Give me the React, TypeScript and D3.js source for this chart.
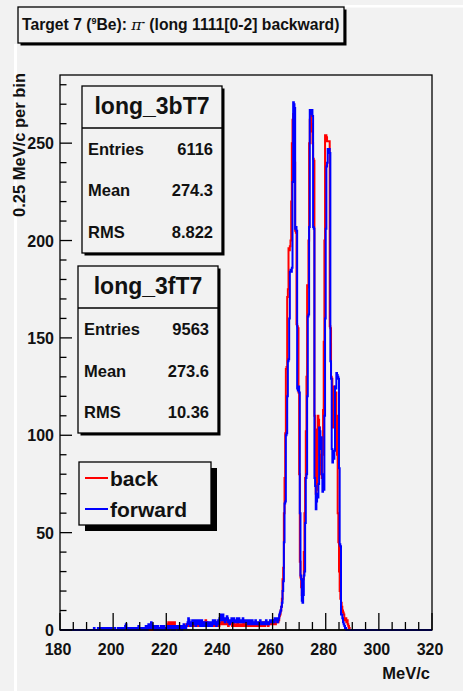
import React from "react";
import * as d3 from "d3";

// ---------- data ----------
const binStart = 192; // MeV/c, first listed bin
const binWidth = 0.25; // MeV/c per bin

// back (red): 192.00 .. 289.75 MeV/c, 0.25 MeV/c bins
const backNoise = [
  0,0,0,0,0,0,0,0, 0,0,0,0,0,0,0,0, 0,0,0,0,0,0,0,0, 0,0,0,0,0,0,0,0,
  0,0,0,0,0,0,0,0, 0,0,0,0,0,0,0,0, 0,0,0,1,0,0,0,0, 0,0,0,0,0,0,0,0,
  0,0,0,0,0,0,0,0, 0,0,1,0,0,0,0,0, 1,0,0,1,0,0,1,0, 0,1,0,0,1,0,0,1,
  0,0,1,0,0,1,0,0, 1,0,0,1,0,0,1,0, 1,2,3,4,3,2,3,4, 4,3,2,3,4,2,1,2,
  2,1,1,2,1,1,2,1, 1,2,1,2,1,2,3,2, 2,3,2,3,2,3,2,3, 2,3,4,3,2,3,2,2,
  3,2,3,2,4,3,4,3, 4,3,4,5,3,4,3,2, 3,2,3,2,3,2,2,3, 3,2,3,4,3,2,3,2,
  3,4,3,4,5,4,3,4, 3,4,5,4,3,2,3,4, 3,4,3,2,3,4,3,2, 3,2,3,4,3,2,3,2,
  2,3,2,3,4,3,2,3, 3,2,3,2,3,4,3,2, 2,3,2,3,2,3,2,3, 3,2,3,4,3,2,3,2,
  2,3,4,3,2,3,4,3, 3,2,3,4,3,4,3,4, 3,4,5,4,3,4,5,4,
];
const backPeak = [
  4,5,7,8,10,12,16,26,
  32,60,78,101,134,135,171,175,
  196,195,197,200,220,250,262,265,
  262,240,205,204,157,156,155,122,
  80,35,27,22,18,20,26,40,
  60,78,102,130,177,176,200,250,
  262,264,260,256,250,242,241,110,
  80,70,72,103,110,108,104,90,
  85,80,78,90,113,148,200,254,
  254,253,251,251,251,251,156,155,
  130,129,110,104,125,124,120,122,
  110,90,60,45,30,20,16,14,
  12,10,9,8,6,5,6,4,
  5,3,2,1,0,0,0,0,
];

// forward (blue)
const forwardNoise = [
  0,0,0,1,0,0,0,0, 0,1,0,0,1,0,0,1, 0,0,1,0,0,0,1,0, 0,1,0,0,0,1,0,0,
  0,0,1,0,0,0,0,1, 0,0,0,1,0,0,1,0, 0,1,2,3,1,0,0,1, 0,0,1,0,0,1,0,0,
  1,0,0,1,0,0,2,0, 0,1,0,0,1,0,0,1, 0,2,1,0,1,3,2,1, 2,4,3,1,2,1,0,2,
  1,0,1,2,0,1,0,1, 2,1,0,1,2,1,0,1, 1,2,1,0,2,1,1,2, 0,1,2,1,0,2,1,1,
  2,1,0,2,1,2,1,0, 1,2,3,1,2,1,2,3, 4,6,5,3,2,4,3,5, 3,4,5,4,2,3,5,4,
  3,5,4,2,4,5,3,2, 4,3,2,4,3,2,3,4, 2,3,4,3,2,4,5,3, 4,5,3,2,4,3,5,4,
  6,8,7,5,7,8,6,5, 4,6,5,7,6,4,5,3, 4,5,6,4,5,6,5,4, 5,4,6,5,4,6,5,4,
  4,5,4,6,5,4,5,4, 5,4,5,3,4,5,4,3, 4,5,3,4,3,4,5,3, 3,4,3,4,3,5,4,3,
  4,3,4,3,4,3,5,4, 3,4,3,4,5,4,4,5, 4,5,4,6,5,6,5,4,
];
const forwardPeak = [
  5,6,8,9,10,12,14,20,
  25,45,65,66,100,101,120,138,
  139,160,184,185,184,186,230,271,
  270,268,206,207,205,124,123,125,
  122,60,28,26,15,14,18,28,
  30,55,78,80,120,161,162,207,
  267,266,265,267,264,207,206,78,
  74,62,66,70,68,75,104,102,
  93,99,80,71,75,72,110,160,
  206,238,240,247,246,247,245,138,
  129,93,86,90,88,92,125,124,
  132,131,130,129,83,44,43,8,
  8,6,4,3,2,1,1,0,
  0,0,0,0,0,0,0,0,
];

const xDomain = [180, 320];
const yDomain = [0, 285];
const xTickLabels = [180, 200, 220, 240, 260, 280, 300, 320];
const yTickLabels = [0, 50, 100, 150, 200, 250];

const statBoxes = [
  { name: "long_3bT7", entries: "6116", mean: "274.3", rms: "8.822" },
  { name: "long_3fT7", entries: "9563", mean: "273.6", rms: "10.36" },
];
const legendItems = [
  { label: "back", color: "#ff0000" },
  { label: "forward", color: "#0000ff" },
];

// ---------- layout ----------
const W = 463;
const H = 691;
const FL = 60, FR = 432, FT = 75, FB = 630;
const FONT = "'Liberation Sans', Arial, Helvetica, sans-serif";
const BG = "#f2f2f2";

const x = d3.scaleLinear().domain(xDomain).range([FL, FR]);
const y = d3.scaleLinear().domain(yDomain).range([FB, FT]);

function histPath(values: number[]): string {
  const pts: [number, number][] = [[xDomain[0], 0]];
  values.forEach((v, i) => pts.push([binStart + i * binWidth, v]));
  pts.push([binStart + values.length * binWidth, 0]);
  pts.push([xDomain[1], 0]);
  const line = d3
    .line<[number, number]>()
    .x((d) => x(d[0]))
    .y((d) => y(d[1]))
    .curve(d3.curveStepAfter);
  return line(pts) || "";
}

const backValues = backNoise.concat(backPeak);
const forwardValues = forwardNoise.concat(forwardPeak);

function StatBox({ s, bx, by, bw, bh, sep, rows }: any) {
  return (
    <g>
      <rect x={bx + 2.5} y={by + 2.5} width={bw} height={bh} fill="#000" />
      <rect x={bx} y={by} width={bw} height={bh} fill={BG} stroke="#000" strokeWidth={1.3} />
      <line x1={bx} x2={bx + bw} y1={sep} y2={sep} stroke="#000" strokeWidth={1.3} />
      <text x={bx + bw / 2} y={by + 28} textAnchor="middle" fontSize={23} fontWeight="bold" fontFamily={FONT} fill="#111">
        {s.name}
      </text>
      {[
        ["Entries", s.entries],
        ["Mean", s.mean],
        ["RMS", s.rms],
      ].map(([k, v], i) => (
        <g key={k}>
          <text x={bx + 6} y={rows[i]} fontSize={16.5} fontWeight="bold" fontFamily={FONT} fill="#111">
            {k}
          </text>
          <text x={bx + bw - 9} y={rows[i]} textAnchor="end" fontSize={16.5} fontWeight="bold" fontFamily={FONT} fill="#111">
            {v}
          </text>
        </g>
      ))}
    </g>
  );
}

export default function App() {
  const minorX = d3.range(xDomain[0], xDomain[1] + 0.01, 5);
  const minorY = d3.range(0, 281, 10);
  return (
    <svg
      width={W}
      height={H}
      viewBox={`0 0 ${W} ${H}`}
      style={{ position: "absolute", left: 0, top: 0, display: "block" }}
    >
      <rect x={0} y={0} width={W} height={H} fill={BG} />
      {/* pad bevel */}
      <rect x={14} y={44} width={3} height={H - 44} fill="#ffffff" />
      <rect x={345} y={5} width={W - 345} height={2.5} fill="#ffffff" />

      {/* title box */}
      <rect x={20.5} y={9.5} width={326} height={36} fill="#000" />
      <rect x={18} y={7} width={326} height={36} fill={BG} stroke="#000" strokeWidth={1.3} />
      <text x={22} y={30} fontSize={15.7} fontWeight="bold" fontFamily={FONT} fill="#111">
        Target 7 (
        <tspan fontSize={9} dy={-6}>9</tspan>
        <tspan dy={6}>Be): </tspan>
        <tspan fontFamily="'DejaVu Serif', serif" fontWeight="normal" fontStyle="italic">π</tspan>
        <tspan fontSize={10} dy={-5}>-</tspan>
        <tspan dy={5}> (long 1111[0-2] backward)</tspan>
      </text>

      {/* frame */}
      <rect x={FL} y={FT} width={FR - FL} height={FB - FT} fill={BG} stroke="#000" strokeWidth={1.3} />

      {/* histograms */}
      <path d={histPath(backValues)} fill="none" stroke="#ff0000" strokeWidth={2} strokeLinejoin="miter" />
      <path d={histPath(forwardValues)} fill="none" stroke="#0000ff" strokeWidth={2} strokeLinejoin="miter" />

      {/* x axis ticks */}
      {minorX.map((v) => {
        const major = xTickLabels.includes(v);
        return (
          <line key={"xt" + v} x1={x(v)} x2={x(v)} y1={FB} y2={FB - (major ? 17 : 8)} stroke="#000" strokeWidth={1.3} />
        );
      })}
      <line x1={FL} x2={FR} y1={FB} y2={FB} stroke="#000" strokeWidth={1.3} />
      {xTickLabels.map((v) => (
        <text key={"xl" + v} x={x(v) - 2} y={655} textAnchor="middle" fontSize={16} fontWeight="bold" fontFamily={FONT} fill="#111">
          {v}
        </text>
      ))}
      <text x={430} y={679} textAnchor="end" fontSize={16.5} fontWeight="bold" fontFamily={FONT} fill="#111">
        MeV/c
      </text>

      {/* y axis ticks */}
      {minorY.map((v) => {
        const major = yTickLabels.includes(v);
        return (
          <line key={"yt" + v} x1={FL} x2={FL + (major ? 12 : 6.5)} y1={y(v)} y2={y(v)} stroke="#000" strokeWidth={1.3} />
        );
      })}
      {yTickLabels.map((v) => (
        <text key={"yl" + v} x={54} y={y(v) + 6} textAnchor="end" fontSize={16} fontWeight="bold" fontFamily={FONT} fill="#111">
          {v}
        </text>
      ))}
      <text
        transform={`translate(25, 73) rotate(-90)`}
        textAnchor="end"
        fontSize={16.5}
        fontWeight="bold"
        fontFamily={FONT}
        fill="#111"
      >
        0.25 MeV/c per bin
      </text>

      {/* stat boxes */}
      <StatBox s={statBoxes[0]} bx={82} by={86} bw={140} bh={167} sep={128} rows={[155, 196, 237.5]} />
      <StatBox s={statBoxes[1]} bx={78} by={266} bw={140} bh={167} sep={308} rows={[335, 376.5, 417.5]} />

      {/* legend */}
      <rect x={85} y={468} width={132} height={63} fill="#000" />
      <rect x={79} y={462} width={132} height={63} fill={BG} stroke="#000" strokeWidth={1.3} />
      {legendItems.map((it, i) => (
        <g key={it.label}>
          <line x1={85} x2={108} y1={478 + i * 31} y2={478 + i * 31} stroke={it.color} strokeWidth={2} />
          <text x={110} y={485.5 + i * 31} fontSize={21} fontWeight="bold" fontFamily={FONT} fill="#111">
            {it.label}
          </text>
        </g>
      ))}
    </svg>
  );
}
